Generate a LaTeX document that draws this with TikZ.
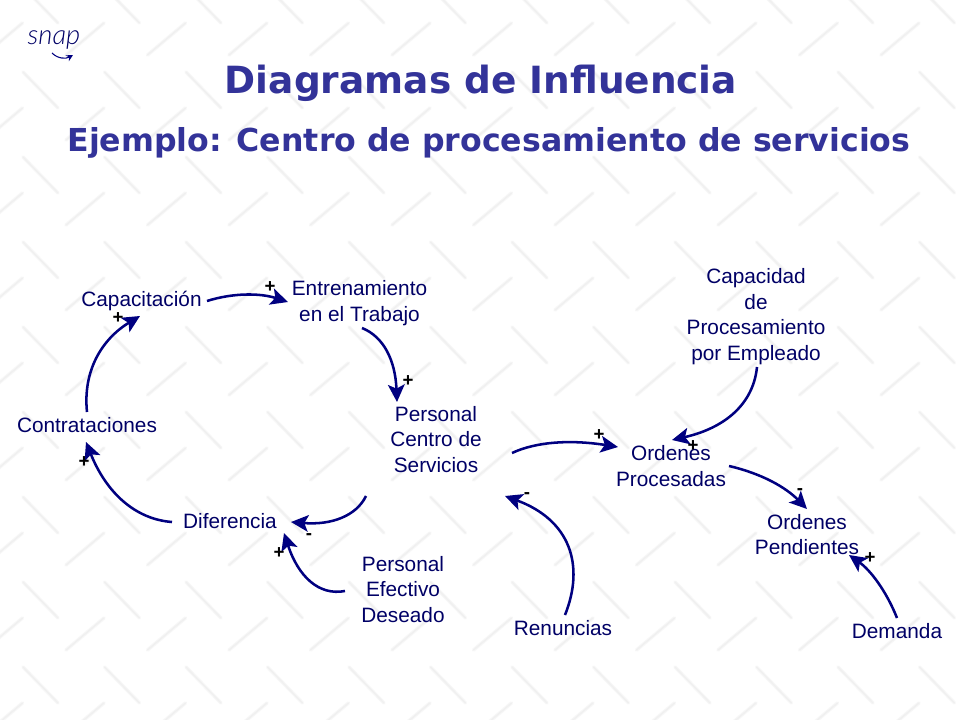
\documentclass[tikz,border=0pt]{standalone}
\usepackage{fontspec}
\setmainfont{Liberation Sans}
\newfontfamily\titlefont{DejaVu Sans}
\newfontfamily\snapfont{Lato Light}
\usetikzlibrary{arrows.meta}
\definecolor{lbl}{RGB}{0,0,102}
\definecolor{arr}{RGB}{0,0,128}
\definecolor{ttl}{RGB}{51,51,153}
\tikzset{
  var/.style={text=lbl,font=\fontsize{15.6pt}{19.1pt}\selectfont,align=center,inner sep=1pt},
  inf/.style={draw=arr,line width=1.9pt,-{Stealth[length=13pt,width=12.5pt,inset=3pt]}},
  sgn/.style={text=black,font=\bfseries\fontsize{14pt}{14pt}\selectfont,inner sep=0pt},
  ttlA/.style={text=ttl,font=\titlefont\bfseries\fontsize{28.1pt}{32pt}\selectfont,inner sep=0pt},
  ttlB/.style={text=ttl,font=\titlefont\bfseries\fontsize{23.7pt}{28pt}\selectfont,inner sep=0pt},
  bgA/.style={draw=black!3,line width=2.6pt,line cap=round},
  bgB/.style={draw=black!6,line width=1pt,line cap=round}
}
\begin{document}
\begin{tikzpicture}[x=0.75pt,y=-0.75pt]
\useasboundingbox (0,0) rectangle (960,720);
\fill[white] (0,0) rectangle (960,720);
\begin{scope}
\clip (0,0) rectangle (960,720);
\foreach \i in {-1,...,11}{
  \foreach \j in {-1,...,8}{
    \pgfmathsetmacro{\xa}{23+81.5*\i}
    \pgfmathsetmacro{\ya}{72+85*\j}
    \pgfmathsetmacro{\xb}{\xa+35}
    \pgfmathsetmacro{\yb}{\ya+36}
    \draw[bgA] (\xa,\ya) -- (\xb,\yb);
    \draw[bgB] (\xa,\ya) -- (\xb,\yb);
    \pgfmathsetmacro{\xc}{66+81.5*\i}
    \pgfmathsetmacro{\yc}{55+85*\j}
    \pgfmathsetmacro{\xd}{\xc+38}
    \pgfmathsetmacro{\yd}{\yc-32}
    \draw[bgA] (\xc,\yc) -- (\xd,\yd);
    \draw[bgB] (\xc,\yc) -- (\xd,\yd);
  }
}
\end{scope}
% logo
\node[text=lbl,font=\snapfont\itshape\fontsize{20.5pt}{21pt}\selectfont,inner sep=0pt] (logo) at (54,40) {snap};
\coordinate (logoA) at (52,53);
\coordinate (logoB) at (73,55);
\draw[arr,line width=0.8pt,-{Stealth[length=5pt,width=5pt]}] (logoA) .. controls (58,59) and (66,59) .. (logoB);
% titles
\node[ttlA] (t1) at (481,83) {Diagramas de Influencia};
\node[ttlB] (t2) at (489,143) {Ejemplo: Centro de procesamiento de servicios};
% variables
\node[var] (cap) at (141.5,301) {Capacitación};
\node[var] (ent) at (359.5,303) {Entrenamiento\\en el Trabajo};
\node[var] (per) at (436,439.5) {Personal\\Centro de\\Servicios};
\node[var] (con) at (87,425) {Contrataciones};
\node[var] (dif) at (230,521) {Diferencia};
\node[var] (des) at (403,589.5) {Personal\\Efectivo\\Deseado};
\node[var] (cpr) at (756,316.5) {Capacidad\\de\\Procesamiento\\por Empleado};
\node[var] (pro) at (671,466) {Ordenes\\Procesadas};
\node[var] (pen) at (807,534.5) {Ordenes\\Pendientes};
\node[var] (ren) at (563,628) {Renuncias};
\node[var] (dem) at (897,631) {Demanda};
% connectors
\draw[inf] ([shift={(65.5,0)}]cap.center) .. controls (233.3,292.7) and (260.3,293) .. ([shift={(-71.5,-1)}]ent.center);
\draw[inf] ([shift={(2.5,25)}]ent.center) .. controls (383.7,336.7) and (395.3,360.3) .. ([shift={(-39,-37.5)}]per.center);
\draw[inf] ([shift={(0,-13)}]con.center) .. controls (82.7,370.7) and (102,339) .. ([shift={(-1.5,15)}]cap.center);
\draw[inf] ([shift={(-58,1)}]dif.center) .. controls (135.3,519.3) and (106.3,492.7) .. ([shift={(-1,17)}]con.center);
\draw[inf] ([shift={(-70,56.5)}]per.center) .. controls (356.3,516) and (331.3,525.3) .. ([shift={(61,1)}]dif.center);
\draw[inf] ([shift={(-58,1.5)}]des.center) .. controls (319,596) and (298.3,576.7) .. ([shift={(54,12)}]dif.center);
\draw[inf] ([shift={(76,13.5)}]per.center) .. controls (537,441.3) and (572,439.7) .. ([shift={(-53,-19)}]pro.center);
\draw[inf] ([shift={(1,50.5)}]cpr.center) .. controls (753.3,404) and (725,428) .. ([shift={(1,-26)}]pro.center);
\draw[inf] ([shift={(58,0)}]pro.center) .. controls (762,473.7) and (785.7,487.3) .. ([shift={(0,-25.5)}]pen.center);
\draw[inf] ([shift={(2,-13)}]ren.center) .. controls (585,565) and (570,520) .. ([shift={(69,56.5)}]per.center);
\draw[inf] ([shift={(0,-13)}]dem.center) .. controls (886.3,591) and (870.3,570) .. ([shift={(42,20.5)}]pen.center);
% signs
\node[sgn] (s1) at (270,287) {+};
\node[sgn] (s2) at (118,318) {+};
\node[sgn] (s3) at (408,381) {+};
\node[sgn] (s4) at (84,462) {+};
\node[sgn] (s5) at (279,553) {+};
\node[sgn] (s6) at (309,537) {-};
\node[sgn] (s7) at (599,435) {+};
\node[sgn] (s8) at (693,446) {+};
\node[sgn] (s9) at (527,496) {-};
\node[sgn] (s10) at (800,492) {-};
\node[sgn] (s11) at (870,558) {+};
\end{tikzpicture}
\end{document}
